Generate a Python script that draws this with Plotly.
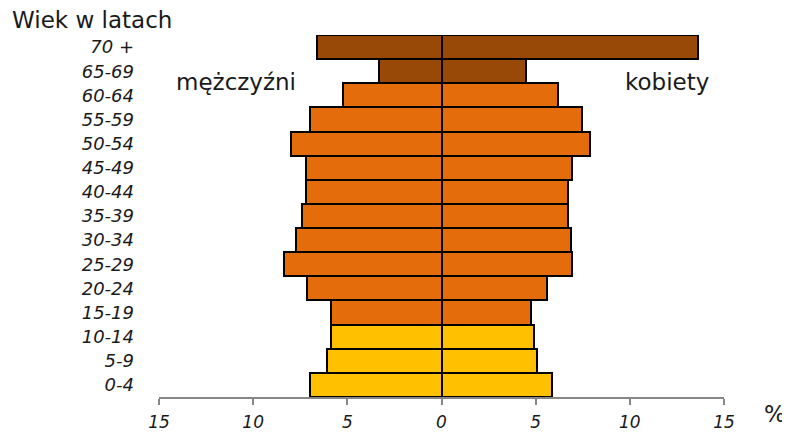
import plotly.graph_objects as go

age_groups = ["0-4", "5-9", "10-14", "15-19", "20-24", "25-29", "30-34", "35-39",
              "40-44", "45-49", "50-54", "55-59", "60-64", "65-69", "70 +"]
men_pct = [6.99, 6.07, 5.86, 5.86, 7.15, 8.37, 7.75, 7.43, 7.21, 7.2, 8.01, 7.0, 5.25, 3.33, 6.6]
women_pct = [5.87, 5.09, 4.91, 4.74, 5.6, 6.95, 6.86, 6.74, 6.74, 6.91, 7.88, 7.46, 6.2, 4.46, 13.6]
group_colors = ["#FFC000", "#FFC000", "#FFC000", "#E46C0A", "#E46C0A", "#E46C0A", "#E46C0A",
                "#E46C0A", "#E46C0A", "#E46C0A", "#E46C0A", "#E46C0A", "#E46C0A", "#984807", "#984807"]
tick_vals = [-15, -10, -5, 0, 5, 10, 15]
tick_text = ["15", "10", "5", "0", "5", "10", "15"]

FONT = "DejaVu Sans"
OFF = 8  # default page body margin

fig = go.Figure()
fig.add_trace(go.Bar(
    y=age_groups, x=[-v for v in men_pct], orientation="h", name="mężczyźni",
    marker=dict(color=group_colors, line=dict(color="black", width=2)),
))
fig.add_trace(go.Bar(
    y=age_groups, x=women_pct, orientation="h", name="kobiety",
    marker=dict(color=group_colors, line=dict(color="black", width=2)),
))

fig.update_layout(
    width=790 - OFF, height=433 - OFF,
    margin=dict(l=159 - OFF, r=66, t=35 - OFF, b=36, pad=0),
    paper_bgcolor="white", plot_bgcolor="white",
    barmode="relative", bargap=0,
    showlegend=False,
    font=dict(family=FONT, color="#1a1a1a"),
)
fig.update_xaxes(
    range=[-15, 15], tickvals=tick_vals, ticktext=tick_text,
    tickfont=dict(family=FONT, size=17, style="italic", color="#1a1a1a"),
    showgrid=False, zeroline=True, zerolinecolor="black", zerolinewidth=2,
    showline=True, linecolor="#868686", linewidth=2,
    ticks="outside", ticklen=6, tickcolor="#868686", tickwidth=2,
    ticklabelstandoff=3, automargin=False,
)
fig.update_yaxes(
    range=[-0.5, 14.5],
    tickfont=dict(family=FONT, size=18, style="italic", color="#1a1a1a"),
    showgrid=False, zeroline=False, showline=False, ticks="",
    ticklabelstandoff=24, automargin=False,
)

fig.add_annotation(text="Wiek w latach", xref="paper", yref="paper",
                   x=(10 - 159) / 565, y=(397 - 20) / 362, xanchor="left", yanchor="middle",
                   showarrow=False, font=dict(family=FONT, size=23, color="#1a1a1a"))
fig.add_annotation(text="mężczyźni", xref="x", yref="paper",
                   x=-10.9, y=(397 - 82) / 362, xanchor="center", yanchor="middle",
                   showarrow=False, font=dict(family=FONT, size=23, color="#1a1a1a"))
fig.add_annotation(text="kobiety", xref="x", yref="paper",
                   x=11.95, y=(397 - 82) / 362, xanchor="center", yanchor="middle",
                   showarrow=False, font=dict(family=FONT, size=23, color="#1a1a1a"))
fig.add_annotation(text="%", xref="paper", yref="paper",
                   x=(775 - 159) / 565, y=(397 - 414) / 362, xanchor="center", yanchor="middle",
                   showarrow=False, font=dict(family=FONT, size=23, color="#1a1a1a"))

fig.write_html("out.html")
